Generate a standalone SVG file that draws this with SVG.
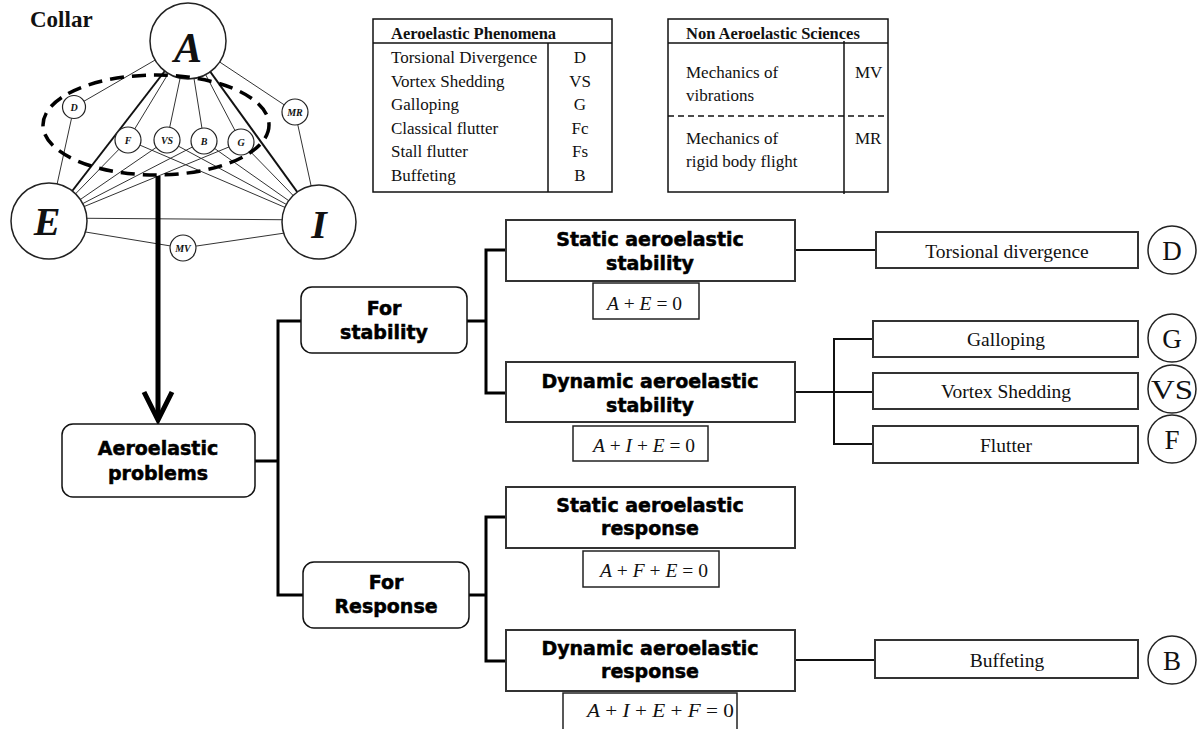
<svg xmlns="http://www.w3.org/2000/svg" width="1204" height="729" viewBox="0 0 1204 729">
<style>
.net{stroke:#333;stroke-width:1;fill:none}
.netb{stroke:#111;stroke-width:2;fill:none}
.nc{fill:#fff;stroke:#222;stroke-width:1.2}
.bc{fill:#fff;stroke:#222;stroke-width:1.5}
.nl{font-family:"Liberation Serif",serif;font-weight:bold;font-style:italic;text-anchor:middle;fill:#111}
.rb{fill:#fff;stroke:#111;stroke-width:1.5}
.sb{fill:#fff;stroke:#333;stroke-width:2}
.fb{fill:#fff;stroke:#222;stroke-width:1.5}
.hv{font-family:"DejaVu Sans",sans-serif;font-weight:bold;font-size:19px;text-anchor:middle;fill:#000;stroke:#000;stroke-width:0.5}
.sr{font-family:"Liberation Serif",serif;fill:#111}
.srm{font-family:"Liberation Serif",serif;fill:#111;text-anchor:middle}
.fm{font-family:"Liberation Serif",serif;font-size:19px;fill:#111}
.fm tspan.i{font-style:italic}
.con{stroke:#000;stroke-width:3;fill:none}
.con2{stroke:#111;stroke-width:2;fill:none}
.tb{fill:none;stroke:#111;stroke-width:1.5}
</style>

<text x="30" y="27" class="sr" font-size="23" font-weight="bold">Collar</text>

<g id="collar-links">
<line class="net" x1="188" y1="41" x2="74" y2="107"/>
<line class="net" x1="74" y1="107" x2="49" y2="221"/>
<line class="net" x1="188" y1="41" x2="295" y2="112"/>
<line class="net" x1="295" y1="112" x2="319" y2="222"/>
<line class="netb" x1="188" y1="41" x2="49" y2="221"/>
<line class="netb" x1="188" y1="41" x2="319" y2="222"/>
<line class="net" x1="188" y1="41" x2="128" y2="140"/>
<line class="net" x1="188" y1="41" x2="167" y2="140"/>
<line class="net" x1="188" y1="41" x2="204" y2="141"/>
<line class="net" x1="188" y1="41" x2="241" y2="142"/>
<line class="net" x1="49" y1="221" x2="128" y2="140"/>
<line class="net" x1="49" y1="221" x2="167" y2="140"/>
<line class="net" x1="49" y1="221" x2="204" y2="141"/>
<line class="net" x1="49" y1="221" x2="241" y2="142"/>
<line class="net" x1="319" y1="222" x2="128" y2="140"/>
<line class="net" x1="319" y1="222" x2="167" y2="140"/>
<line class="net" x1="319" y1="222" x2="204" y2="141"/>
<line class="net" x1="319" y1="222" x2="241" y2="142"/>
<line class="net" x1="49" y1="218" x2="319" y2="220"/>
<line class="net" x1="49" y1="226" x2="183" y2="248"/>
<line class="net" x1="183" y1="248" x2="319" y2="228"/>
</g>

<g id="node-A"><circle class="bc" cx="188" cy="41" r="38"/><text class="nl" x="188" y="62" font-size="42">A</text></g>
<g id="node-E"><circle class="bc" cx="49" cy="221" r="38"/><text class="nl" x="47" y="235" font-size="40">E</text></g>
<g id="node-I"><circle class="bc" cx="319" cy="222" r="37"/><text class="nl" x="319" y="238" font-size="40">I</text></g>
<g id="node-D-small"><circle class="nc" cx="74" cy="107" r="11.5"/><text class="nl" x="74" y="111" font-size="10">D</text></g>
<g id="node-F-small"><circle class="nc" cx="128" cy="140" r="13"/><text class="nl" x="128" y="144" font-size="10">F</text></g>
<g id="node-VS-small"><circle class="nc" cx="167" cy="140" r="13"/><text class="nl" x="167" y="144" font-size="10">VS</text></g>
<g id="node-B-small"><circle class="nc" cx="204" cy="141" r="13"/><text class="nl" x="204" y="145" font-size="10">B</text></g>
<g id="node-G-small"><circle class="nc" cx="241" cy="142" r="13"/><text class="nl" x="241" y="146" font-size="10">G</text></g>
<g id="node-MR-small"><circle class="nc" cx="295" cy="112" r="13"/><text class="nl" x="295" y="116" font-size="10">MR</text></g>
<g id="node-MV-small"><circle class="nc" cx="183" cy="248" r="13"/><text class="nl" x="183" y="252" font-size="10">MV</text></g>

<ellipse cx="156" cy="125" rx="113" ry="50" fill="none" stroke="#000" stroke-width="3.5" stroke-dasharray="14 8"/>

<g id="table-phenomena">
<rect class="tb" x="373" y="19" width="239" height="173"/>
<line class="tb" x1="373" y1="43" x2="612" y2="43"/>
<line class="tb" x1="548" y1="43" x2="548" y2="192"/>
<text class="sr" x="391" y="39" font-size="16.5" font-weight="bold">Aeroelastic Phenomena</text>
<text class="sr" x="391" y="63" font-size="17">Torsional Divergence</text>
<text class="sr" x="391" y="86.5" font-size="17">Vortex Shedding</text>
<text class="sr" x="391" y="110" font-size="17">Galloping</text>
<text class="sr" x="391" y="133.5" font-size="17">Classical flutter</text>
<text class="sr" x="391" y="157" font-size="17">Stall flutter</text>
<text class="sr" x="391" y="180.5" font-size="17">Buffeting</text>
<text class="srm" x="580" y="63" font-size="17">D</text>
<text class="srm" x="580" y="86.5" font-size="17">VS</text>
<text class="srm" x="580" y="110" font-size="17">G</text>
<text class="srm" x="580" y="133.5" font-size="17">Fc</text>
<text class="srm" x="580" y="157" font-size="17">Fs</text>
<text class="srm" x="580" y="180.5" font-size="17">B</text>
</g>

<g id="table-sciences">
<rect class="tb" x="668" y="19" width="220" height="173"/>
<line class="tb" x1="668" y1="43" x2="888" y2="43"/>
<line class="tb" x1="844" y1="41" x2="844" y2="194"/>
<line x1="668" y1="116" x2="888" y2="116" stroke="#111" stroke-width="1.5" stroke-dasharray="6 4"/>
<text class="sr" x="686" y="39" font-size="16.5" font-weight="bold">Non Aeroelastic Sciences</text>
<text class="sr" x="686" y="78" font-size="17">Mechanics of</text>
<text class="sr" x="686" y="101" font-size="17">vibrations</text>
<text class="sr" x="686" y="144" font-size="17">Mechanics of</text>
<text class="sr" x="686" y="167" font-size="17">rigid body flight</text>
<text class="sr" x="855" y="78" font-size="17">MV</text>
<text class="sr" x="855" y="144" font-size="17">MR</text>
</g>

<g id="connectors">
<line x1="158" y1="176" x2="158" y2="419" stroke="#000" stroke-width="5"/>
<polyline points="144,392 158,420 172,392" fill="none" stroke="#000" stroke-width="5" stroke-linejoin="miter"/>
<polyline class="con" points="255,461 278,461"/>
<polyline class="con" points="301,321 278,321 278,595 303,595"/>
<polyline class="con" points="467,321 486,321"/>
<polyline class="con" points="506,250 486,250 486,393 506,393"/>
<polyline class="con" points="469,595 486,595"/>
<polyline class="con" points="506,517 486,517 486,661 506,661"/>
<line class="con2" x1="795" y1="250" x2="876" y2="250"/>
<line class="con2" x1="795" y1="392" x2="873" y2="392"/>
<polyline class="con2" points="873,339 834,339 834,444 873,444"/>
<line class="con2" x1="795" y1="660" x2="875" y2="660"/>
</g>

<g id="node-aeroelastic-problems">
<rect class="rb" x="62" y="424" width="193" height="73" rx="11"/>
<text class="hv" x="158" y="455" font-size="21">Aeroelastic</text>
<text class="hv" x="158" y="480" font-size="21">problems</text>
</g>
<g id="node-for-stability">
<rect class="rb" x="301" y="287" width="166" height="66" rx="11"/>
<text class="hv" x="384" y="315">For</text>
<text class="hv" x="384" y="339">stability</text>
</g>
<g id="node-for-response">
<rect class="rb" x="303" y="562" width="166" height="66" rx="11"/>
<text class="hv" x="386" y="589">For</text>
<text class="hv" x="386" y="613">Response</text>
</g>

<g id="node-static-stability">
<rect class="sb" x="506" y="220" width="289" height="61"/>
<text class="hv" x="650" y="246">Static aeroelastic</text>
<text class="hv" x="650" y="270">stability</text>
<rect class="fb" x="593" y="283" width="106" height="36"/>
<text class="fm" x="607" y="310" textLength="75" lengthAdjust="spacingAndGlyphs"><tspan class="i">A</tspan> + <tspan class="i">E</tspan> = 0</text>
</g>
<g id="node-dynamic-stability">
<rect class="sb" x="506" y="362" width="289" height="60"/>
<text class="hv" x="650" y="388">Dynamic aeroelastic</text>
<text class="hv" x="650" y="412">stability</text>
<rect class="fb" x="573" y="426" width="135" height="35"/>
<text class="fm" x="593" y="452" textLength="102" lengthAdjust="spacingAndGlyphs"><tspan class="i">A</tspan> + <tspan class="i">I</tspan> + <tspan class="i">E</tspan> = 0</text>
</g>
<g id="node-static-response">
<rect class="sb" x="506" y="487" width="289" height="61"/>
<text class="hv" x="650" y="512">Static aeroelastic</text>
<text class="hv" x="650" y="535">response</text>
<rect class="fb" x="583" y="551" width="136" height="36"/>
<text class="fm" x="600" y="577" textLength="108" lengthAdjust="spacingAndGlyphs"><tspan class="i">A</tspan> + <tspan class="i">F</tspan> + <tspan class="i">E</tspan> = 0</text>
</g>
<g id="node-dynamic-response">
<rect class="sb" x="506" y="630" width="289" height="61"/>
<text class="hv" x="650" y="655">Dynamic aeroelastic</text>
<text class="hv" x="650" y="678">response</text>
<rect class="fb" x="563" y="693" width="174" height="40"/>
<text class="fm" x="587" y="717" textLength="147" lengthAdjust="spacingAndGlyphs"><tspan class="i">A</tspan> + <tspan class="i">I</tspan> + <tspan class="i">E</tspan> + <tspan class="i">F</tspan> = 0</text>
</g>

<g id="node-torsional-divergence">
<rect class="sb" x="876" y="232" width="262" height="36"/>
<text class="srm" x="1007" y="258" font-size="19.5">Torsional divergence</text>
</g>
<g id="node-galloping">
<rect class="sb" x="873" y="321" width="265" height="36"/>
<text class="srm" x="1006" y="346" font-size="19.5">Galloping</text>
</g>
<g id="node-vortex-shedding">
<rect class="sb" x="873" y="373" width="265" height="36"/>
<text class="srm" x="1006" y="398" font-size="19.5">Vortex Shedding</text>
</g>
<g id="node-flutter">
<rect class="sb" x="873" y="426" width="265" height="37"/>
<text class="srm" x="1006" y="452" font-size="19.5">Flutter</text>
</g>
<g id="node-buffeting">
<rect class="sb" x="875" y="640" width="263" height="38"/>
<text class="srm" x="1007" y="667" font-size="19.5">Buffeting</text>
</g>

<g id="circle-D"><circle class="bc" cx="1172" cy="250" r="24"/><text class="srm" x="1172" y="260" font-size="27">D</text></g>
<g id="circle-G"><circle class="bc" cx="1172" cy="338" r="24"/><text class="srm" x="1172" y="348" font-size="27">G</text></g>
<g id="circle-VS"><circle class="bc" cx="1172" cy="389" r="24"/><text class="srm" x="1172" y="399" font-size="27" textLength="42" lengthAdjust="spacingAndGlyphs">VS</text></g>
<g id="circle-F"><circle class="bc" cx="1172" cy="439" r="24"/><text class="srm" x="1172" y="449" font-size="27">F</text></g>
<g id="circle-B"><circle class="bc" cx="1172" cy="660" r="24"/><text class="srm" x="1172" y="670" font-size="27">B</text></g>
</svg>
